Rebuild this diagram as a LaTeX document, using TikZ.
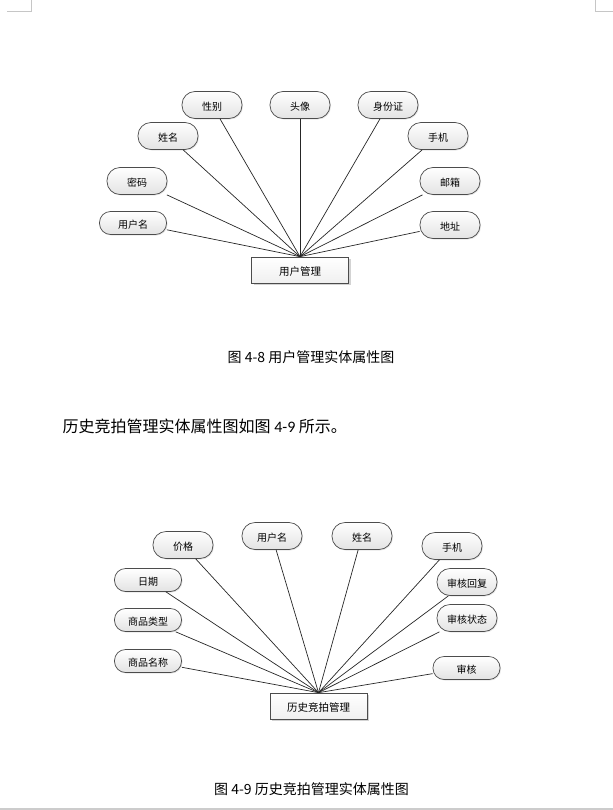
\documentclass[tikz,border=0pt]{standalone}
\usepackage{fontspec}
\setmainfont{Noto Sans CJK SC}
\newfontfamily\latinfont{Carlito}
\usetikzlibrary{shadows}

\begin{document}
\begin{tikzpicture}[x=1bp, y=-1bp,
  attr/.style={draw=gray!60!black, line width=0.7bp, rounded corners=13bp, minimum width=60bp, minimum height=27bp, inner sep=1bp,
    text height=10bp, text depth=0bp,
    top color=white, bottom color=gray!22, font=\fontsize{10bp}{12bp}\selectfont,
    drop shadow={shadow xshift=1bp, shadow yshift=-1bp, opacity=0.2}},
  attrw/.style={attr, minimum width=67bp, minimum height=23bp, rounded corners=11bp},
  ent/.style={draw=gray!60!black, line width=0.7bp, minimum width=97bp, minimum height=26bp, inner sep=1bp,
    text height=10.5bp, text depth=0bp,
    top color=white, bottom color=gray!12, font=\fontsize{10.5bp}{12bp}\selectfont,
    drop shadow={shadow xshift=2bp, shadow yshift=-2bp, opacity=0.35}},
  link/.style={draw=gray!30!black, line width=0.7bp},
  figcap/.style={font=\fontsize{14bp}{16bp}\selectfont, inner sep=0pt},
  bodytext/.style={font=\fontsize{16bp}{18bp}\selectfont, inner sep=0pt},
  cropmark/.style={draw=gray!45, line width=0.8bp}]
  \useasboundingbox (0,0) rectangle (613,810);
  % page marks
  \draw[cropmark] (7,11.5) -- (31.5,11.5) -- (31.5,0);
  \draw[cropmark] (613,11.5) -- (595.5,11.5) -- (595.5,0);
  \draw[draw=gray!40, line width=1.3bp] (0,809) -- (613,809);

  % figure 4-8
  \node[ent] (user) at (300,270) {用户管理};
  \node[attr] (u-sex) at (212,105) {性别};
  \node[attr] (u-photo) at (300,105) {头像};
  \node[attr] (u-id) at (388,105) {身份证};
  \node[attr] (u-name) at (168,136) {姓名};
  \node[attr] (u-phone) at (438,136) {手机};
  \node[attr] (u-pwd) at (137,181) {密码};
  \node[attr] (u-mail) at (450,181) {邮箱};
  \node[attrw] (u-login) at (133,223) {用户名};
  \node[attr] (u-addr) at (450,225) {地址};
  \foreach \a in {u-sex,u-photo,u-id,u-name,u-phone,u-pwd,u-mail,u-login,u-addr}
    \draw[link] (\a) -- (user.north);
  \node[figcap] (cap1) at (311,357.5) {图 4-8 用户管理实体属性图};

  \node[bodytext, anchor=west] (text) at (62.5,426) {历史竞拍管理实体属性图如图 {\latinfont 4-9} 所示。};

  % figure 4-9
  \node[ent] (hist) at (318.5,706) {历史竞拍管理};
  \node[attr] (h-price) at (183,545) {价格};
  \node[attr] (h-login) at (272,536) {用户名};
  \node[attr] (h-name) at (362,536) {姓名};
  \node[attr] (h-phone) at (452,546) {手机};
  \node[attrw] (h-date) at (148,580) {日期};
  \node[attr] (h-reply) at (467,582) {审核回复};
  \node[attrw] (h-type) at (148,620) {商品类型};
  \node[attr] (h-state) at (467,618) {审核状态};
  \node[attrw] (h-goods) at (148,661) {商品名称};
  \node[attrw] (h-check) at (466.5,668) {审核};
  \foreach \a in {h-price,h-login,h-name,h-phone,h-date,h-reply,h-type,h-state,h-goods,h-check}
    \draw[link] (\a) -- (hist.north);
  \node[figcap] (cap2) at (311.5,789.5) {图 4-9 历史竞拍管理实体属性图};
\end{tikzpicture}
\end{document}
